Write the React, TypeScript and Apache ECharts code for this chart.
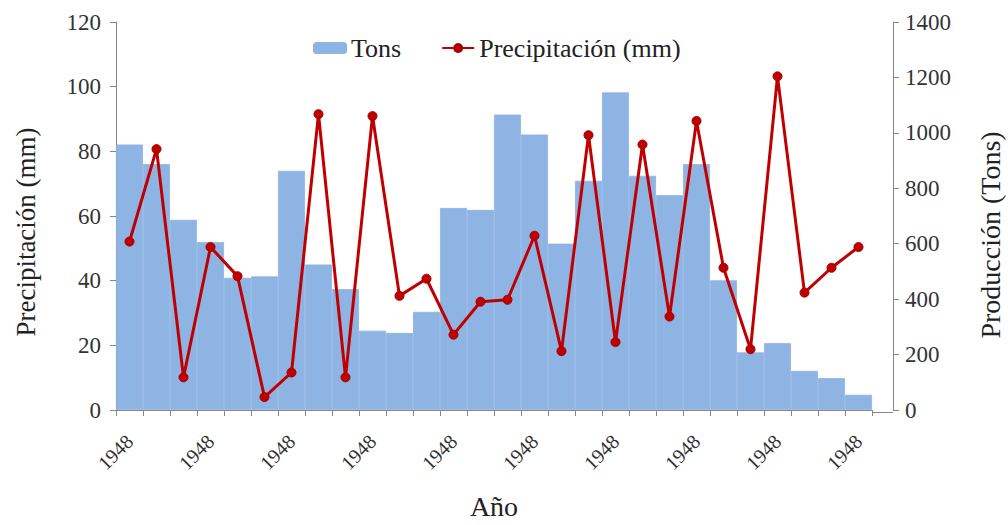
import React, { useEffect, useRef } from "react";
import * as echarts from "echarts";

const years = [
  "1948", "1948", "1948", "1948", "1948", "1948", "1948", "1948", "1948", "1948",
  "1948", "1948", "1948", "1948", "1948", "1948", "1948", "1948", "1948", "1948",
  "1948", "1948", "1948", "1948", "1948", "1948", "1948", "1948",
];

const tons = [
  958, 887, 686, 606, 477, 482, 863, 525, 436, 286,
  278, 354, 729, 722, 1066, 994, 600, 827, 1146, 845,
  775, 887, 468, 208, 241, 141, 115, 55,
];

const precip = [
  52.1, 80.7, 10.1, 50.4, 41.4, 4.0, 11.6, 91.5, 10.1, 90.9,
  35.3, 40.6, 23.3, 33.5, 34.1, 53.9, 18.2, 85.0, 21.0, 82.1,
  28.9, 89.4, 44.0, 18.8, 103.2, 36.3, 44.0, 50.4,
];

const leftAxisTitle = "Precipitación (mm)";
const rightAxisTitle = "Producción (Tons)";

const FONT = "'Liberation Serif', 'Times New Roman', serif";
const AXIS_COLOR = "#868686";
const BAR_COLOR = "#8EB4E3";

export default function App() {
  const ref = useRef<HTMLDivElement>(null);

  useEffect(() => {
    if (!ref.current) return;
    const chart = echarts.init(ref.current, undefined, { renderer: "svg" });
    const option: any = {
      animation: false,
      backgroundColor: "#ffffff",
      textStyle: { fontFamily: FONT },
      grid: { left: 116, right: 136, top: 22, bottom: 113, containLabel: false },
      legend: {
        top: 30,
        left: 308,
        itemWidth: 32,
        itemHeight: 10,
        itemGap: 40,
        data: ["Tons", "Precipitación (mm)"],
        textStyle: { fontSize: 26, color: "#222", fontFamily: FONT },
      },
      xAxis: {
        type: "category",
        data: years,
        boundaryGap: true,
        axisLine: { show: true, lineStyle: { color: AXIS_COLOR, width: 1 } },
        axisTick: { show: true, interval: 0, length: 6, lineStyle: { color: AXIS_COLOR } },
        axisLabel: {
          interval: 2,
          rotate: 45,
          fontSize: 20,
          color: "#333",
          margin: 28,
          fontFamily: FONT,
        },
        name: "Año",
        nameLocation: "middle",
        nameGap: 82,
        nameTextStyle: { fontSize: 28, color: "#222", fontFamily: FONT },
      },
      yAxis: [
        {
          type: "value",
          min: 0,
          max: 120,
          interval: 20,
          position: "left",
          axisLine: { show: true, lineStyle: { color: AXIS_COLOR } },
          axisTick: { show: true, length: 6, lineStyle: { color: AXIS_COLOR } },
          splitLine: { show: false },
          axisLabel: { fontSize: 23, color: "#333", margin: 15, fontFamily: FONT },
        },
        {
          type: "value",
          min: 0,
          max: 1400,
          interval: 200,
          position: "right",
          offset: 21,
          axisLine: { show: true, lineStyle: { color: AXIS_COLOR } },
          axisTick: { show: true, length: 6, lineStyle: { color: AXIS_COLOR } },
          splitLine: { show: false },
          axisLabel: {
            fontSize: 23,
            color: "#333",
            margin: 12,
            fontFamily: FONT,
            formatter: (v: number) => String(v),
          },
        },
      ],
      series: [
        {
          name: "Tons",
          type: "bar",
          yAxisIndex: 1,
          data: tons,
          barCategoryGap: "0%",
          barGap: "0%",
          itemStyle: { color: BAR_COLOR, borderColor: BAR_COLOR, borderWidth: 0.8 },
        },
        {
          name: "Precipitación (mm)",
          type: "line",
          yAxisIndex: 0,
          data: precip,
          symbol: "circle",
          symbolSize: 9,
          z: 5,
          lineStyle: { color: "#C00000", width: 3 },
          itemStyle: { color: "#C00000", borderColor: "#A00000", borderWidth: 1 },
        },
      ],
      graphic: [
        {
          type: "line",
          shape: { x1: 872, y1: 412.5, x2: 893, y2: 412.5 },
          style: { stroke: AXIS_COLOR, lineWidth: 1 },
        },
        {
          type: "text",
          x: 26,
          y: 232,
          rotation: Math.PI / 2,
          style: {
            text: leftAxisTitle,
            font: `27px ${FONT}`,
            fill: "#222",
            textAlign: "center",
            textVerticalAlign: "middle",
          },
        },
        {
          type: "text",
          x: 990,
          y: 235,
          rotation: Math.PI / 2,
          style: {
            text: rightAxisTitle,
            font: `28px ${FONT}`,
            fill: "#222",
            textAlign: "center",
            textVerticalAlign: "middle",
          },
        },
      ],
    };
    chart.setOption(option);
    return () => chart.dispose();
  }, []);

  return (
    <div
      ref={ref}
      style={{ position: "absolute", left: 0, top: 0, width: 1008, height: 525 }}
    />
  );
}
